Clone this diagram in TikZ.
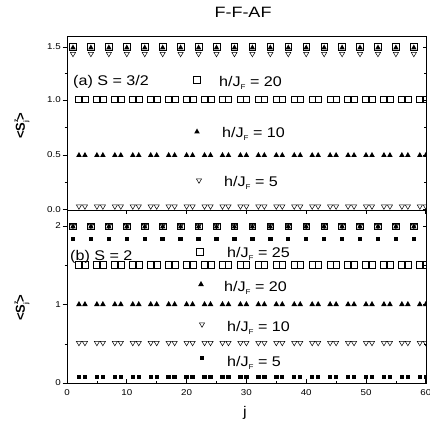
\documentclass[tikz,border=0pt]{standalone}
\usepackage{graphicx}
\usepackage{fontspec}
\setmainfont{Liberation Sans}
\newcommand\fs[1]{\fontsize{#1}{#1}\selectfont}
\newcommand\tx[3]{{\fs{#1}\scalebox{#2}[1]{#3}}}
\newcommand\hJ{h/J\raisebox{-0.45ex}{\scalebox{0.5}{F}}}
\newcommand\Sjz{\textless S\rlap{\raisebox{1.0ex}{\scalebox{0.5}{z}}}\raisebox{-0.45ex}{\scalebox{0.5}{j}}\textgreater}
\newcommand\mOsq[2]{\draw[mk] ({#1-3.3},{#2-3.3}) rectangle ({#1+3.3},{#2+3.3});}
\newcommand\mUtri[2]{\fill ({#1},{#2-3}) -- ({#1-2.8},{#2+2}) -- ({#1+2.8},{#2+2}) -- cycle;}
\newcommand\mDtri[2]{\draw[mkt] ({#1},{#2+2.3}) -- ({#1-2.6},{#2-2.1}) -- ({#1+2.6},{#2-2.1}) -- cycle;}
\newcommand\mFsq[2]{\fill ({#1-2.2},{#2-2.2}) rectangle ({#1+2.2},{#2+2.2});}
\begin{document}
\begin{tikzpicture}[x=1pt,y=-1pt,
  mk/.style={line width=0.6pt},
  mkt/.style={line width=0.5pt,line join=miter},
  lbl/.style={inner sep=0pt, anchor=base west},
  tkl/.style={inner sep=0pt},
  axl/.style={line width=0.8pt}]
\useasboundingbox (0,0) rectangle (430,427);

% title and axis labels
\node[inner sep=0pt] (title) at (243,12) {\tx{15}{1.2}{F-F-AF}};
\node[inner sep=0pt,rotate=90] (ya) at (22,126) {\bfseries\tx{13}{1}{\Sjz}};
\node[inner sep=0pt,rotate=90] (yb) at (22,308) {\bfseries\tx{13}{1}{\Sjz}};
\node[inner sep=0pt] (xl) at (245,413) {\tx{14}{1.15}{j}};

% data panel (a)
\begin{scope}
\clip (67,36) rectangle (426,211);
\foreach \j in {1,...,60}{
  \pgfmathsetmacro\x{67+5.98*\j}
  \pgfmathtruncatemacro\r{mod(\j,3)}
  \ifnum\r=1
    \mOsq{\x}{47}
    \mUtri{\x}{47.5}
    \mDtri{\x}{54.5}
  \else
    \mOsq{\x}{99.5}
    \mUtri{\x}{155}
    \mDtri{\x}{207}
  \fi
}
\end{scope}

% data panel (b)
\begin{scope}
\clip (67,211) rectangle (426,383);
\foreach \j in {1,...,60}{
  \pgfmathsetmacro\x{67+5.98*\j}
  \pgfmathtruncatemacro\r{mod(\j,3)}
  \ifnum\r=1
    \mOsq{\x}{226.5}
    \mUtri{\x}{226.5}
    \mDtri{\x}{226.5}
    \mFsq{\x}{239}
  \else
    \mOsq{\x}{265}
    \mUtri{\x}{304}
    \mDtri{\x}{343.5}
    \mFsq{\x}{377}
  \fi
}
\end{scope}

% frames
\draw[axl] (67,36) rectangle (426,383);
\draw[line width=1.3pt] (67,210.5) -- (426,210.5);

% y ticks panel (a)
\foreach \yy/\t in {47/1.5,100/1.0,155/0.5,209.5/0.0}{
  \draw[axl] (62.5,\yy) -- (67,\yy);
  \draw[axl] (426,\yy) -- (422.5,\yy);
  \node[tkl,anchor=east] at (61,\yy) {\tx{8.5}{1.15}{\t}};
}
\foreach \yy in {73.5,127.5,182}{
  \draw[axl] (64.5,\yy) -- (67,\yy);
  \draw[axl] (426,\yy) -- (424,\yy);
}
% y ticks panel (b)
\foreach \yy/\t in {226/2,304.5/1,383/0}{
  \draw[axl] (62.5,\yy) -- (67,\yy);
  \draw[axl] (426,\yy) -- (422.5,\yy);
  \node[tkl,anchor=east] at (61,\yy) {\tx{8.5}{1.15}{\t}};
}
\foreach \yy in {265,344}{
  \draw[axl] (64.5,\yy) -- (67,\yy);
  \draw[axl] (426,\yy) -- (424,\yy);
}
% x ticks
\foreach \j in {0,10,...,60}{
  \draw[axl] ({67+5.98*\j},383) -- ({67+5.98*\j},378.5);
  \draw[axl] ({67+5.98*\j},210.5) -- ({67+5.98*\j},214);
  \node[tkl,anchor=north] at ({67+5.98*\j},389) {\tx{8.5}{1.15}{\j}};
}
\foreach \j in {5,15,...,55}{
  \draw[axl] ({67+5.98*\j},383) -- ({67+5.98*\j},380.5);
}

% legend panel (a)
\node[lbl] (la) at (73,86) {\tx{14}{1.15}{(a) S = 3/2}};
\mOsq{197}{80}
\node[lbl] (la1) at (219,86.5) {\tx{14}{1.15}{\hJ\ = 20}};
\mUtri{197}{131.5}
\node[lbl] (la2) at (222,137.5) {\tx{14}{1.15}{\hJ\ = 10}};
\mDtri{199}{181}
\node[lbl] (la3) at (224,186.5) {\tx{14}{1.15}{\hJ\ = 5}};

% legend panel (b)
\node[lbl] (lb) at (70,260) {\tx{14}{1.15}{(b) S = 2}};
\mOsq{200}{252}
\node[lbl] (lb1) at (227,257) {\tx{14}{1.15}{\hJ\ = 25}};
\mUtri{201}{284}
\node[lbl] (lb2) at (224,291) {\tx{14}{1.15}{\hJ\ = 20}};
\mDtri{202}{325}
\node[lbl] (lb3) at (227,331.5) {\tx{14}{1.15}{\hJ\ = 10}};
\mFsq{202}{358}
\node[lbl] (lb4) at (227,366.5) {\tx{14}{1.15}{\hJ\ = 5}};
\end{tikzpicture}
\end{document}
